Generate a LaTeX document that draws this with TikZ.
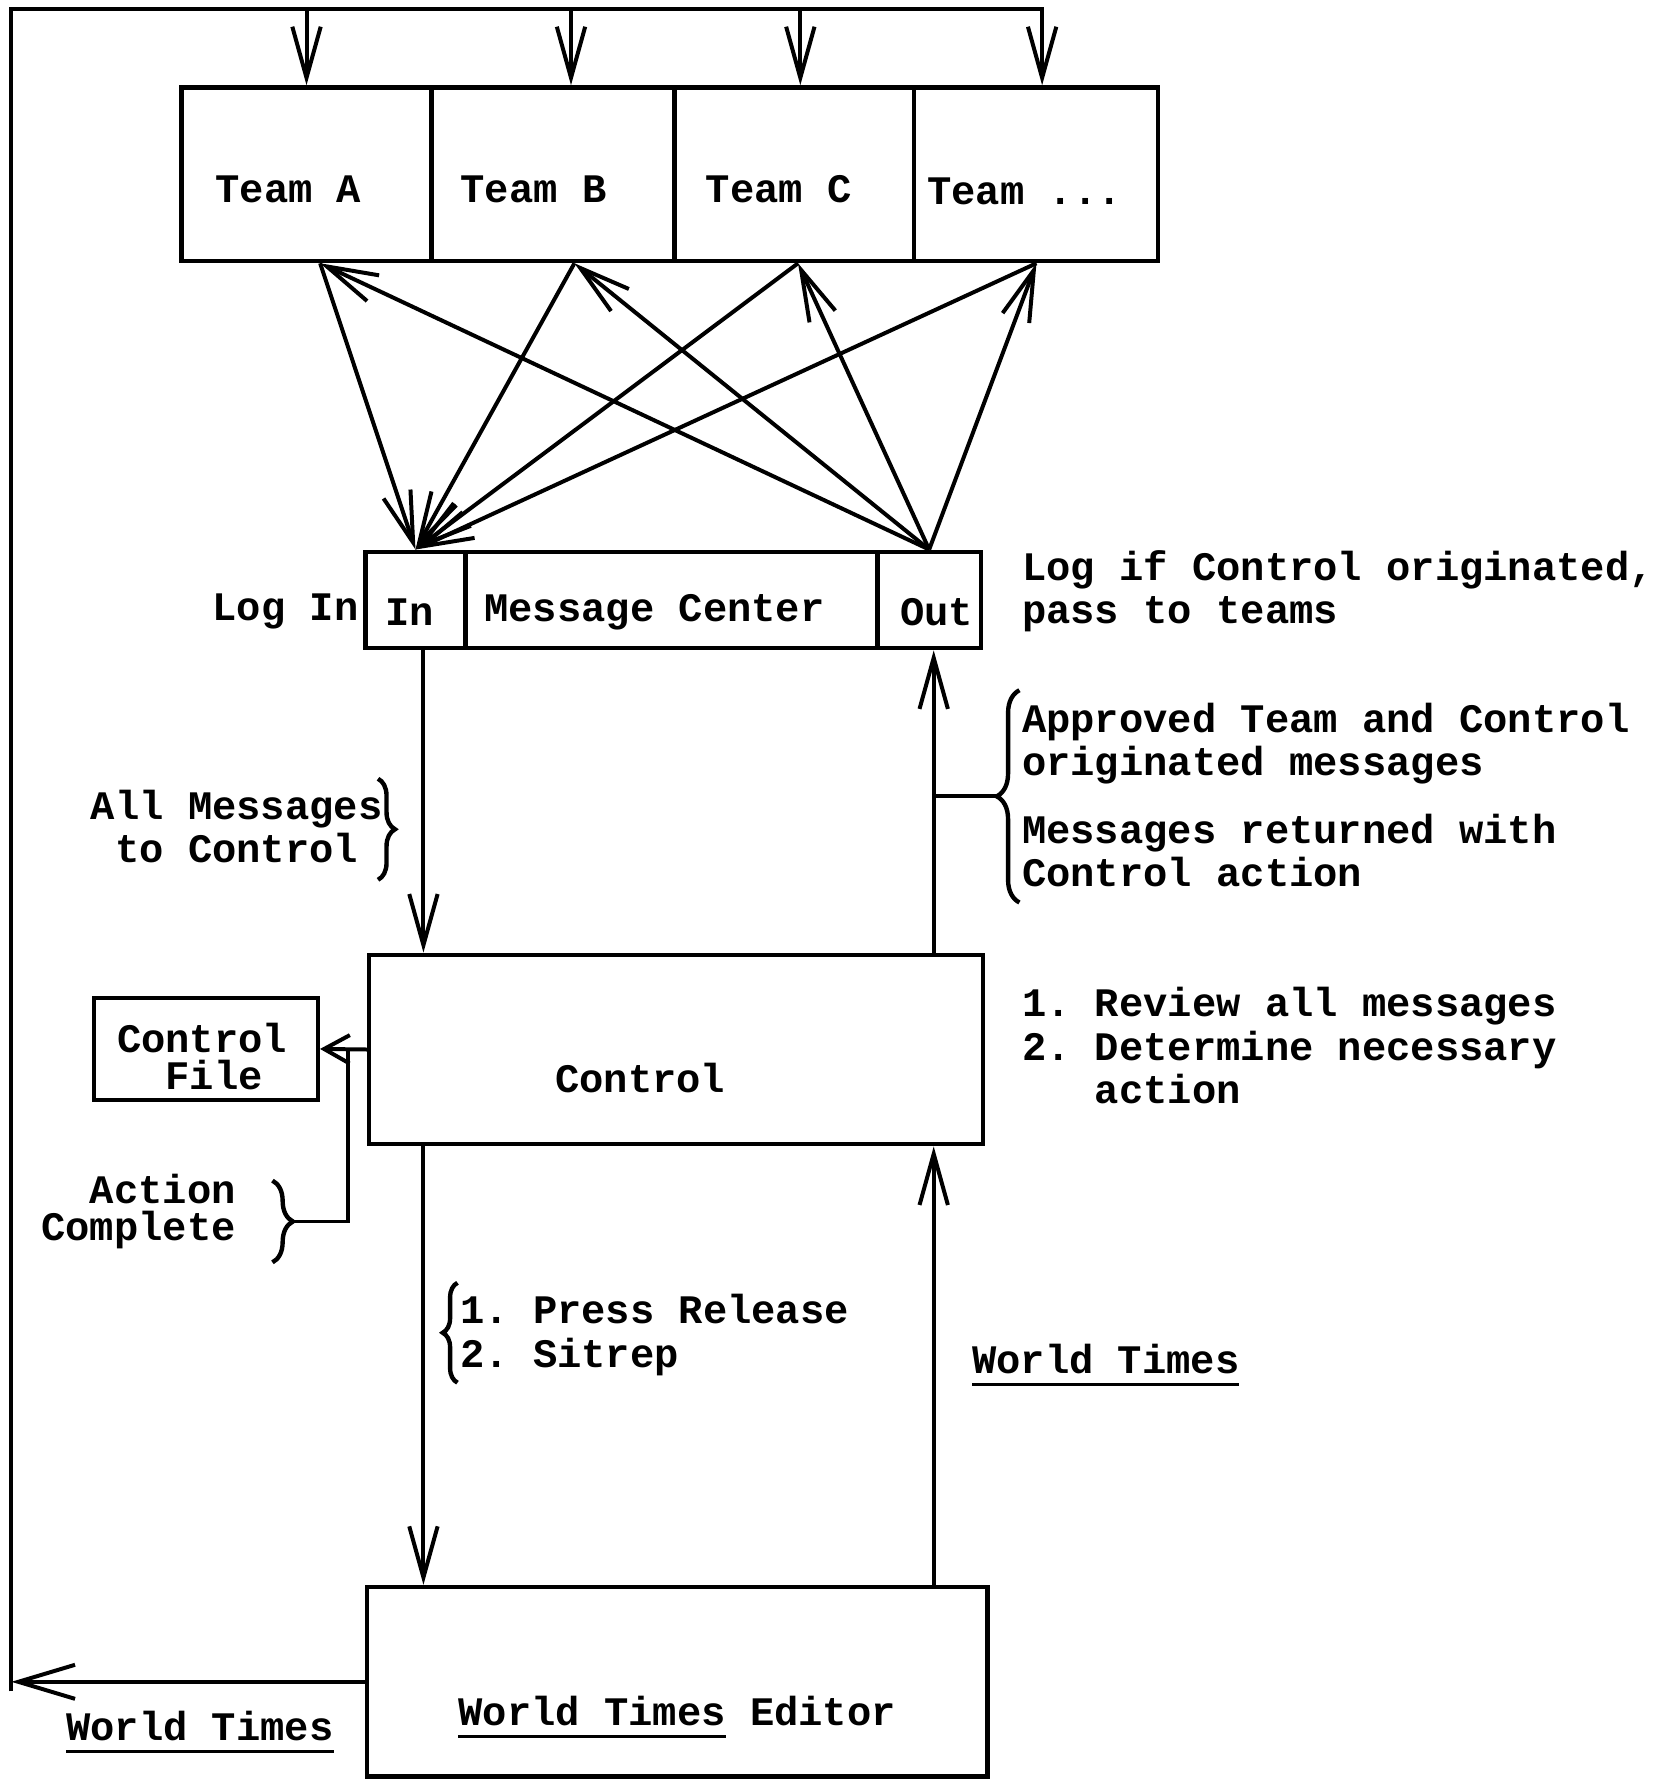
\documentclass[tikz,border=0pt]{standalone}
\usepackage{fontspec}
\setmonofont{Liberation Mono}
\usetikzlibrary{calc,arrows.meta,decorations.pathreplacing}

\newcommand{\ulword}[1]{\vtop{\hbox{#1}\kern4.5pt\hrule height 1.6pt}}

\tikzset{
    box/.style={draw,line width=2.2pt,inner sep=0pt},
    txt/.style={inner sep=0pt,font=\ttfamily\bfseries\fontsize{20.3}{21.6}\selectfont},
    wire/.style={line width=2pt},
    flow/.style={wire,-{Straight Barb[length=0.9cm,width=0.5cm]}},
    brc/.style={wire,line width=2.2pt,decorate,decoration={brace,amplitude=#1}},
    brc/.default=0.3cm,
}

\begin{document}
\begin{tikzpicture}[x=0.02cm,y=-0.02cm]
    \useasboundingbox (0,0) rectangle (1461,1568);

    %%% Teams %%%

    \node[box,minimum width=4.4cm,minimum height=3.06cm] (teamA) at (270,153.5) {};
    \node[box,minimum width=4.28cm,minimum height=3.06cm] (teamB) at (487,153.5) {};
    \node[box,minimum width=4.22cm,minimum height=3.06cm] (teamC) at (699.5,153.5) {};
    \node[box,minimum width=4.3cm,minimum height=3.06cm] (teamD) at (912.5,153.5) {};
    \node[txt] (teamAt) at ($(teamA.center)+(-16,13.5)$) {Team A};
    \node[txt] (teamBt) at ($(teamB.center)+(-17,13.5)$) {Team B};
    \node[txt] (teamCt) at ($(teamC.center)+(-13.5,13.5)$) {Team C};
    \node[txt] (teamDt) at ($(teamD.center)+(-10,15)$) {Team ...};

    %%% Message Center %%%

    \node[box,minimum width=1.76cm,minimum height=1.7cm] (in) at (366,528.5) {};
    \node[box,minimum width=7.26cm,minimum height=1.7cm] (mc) at (591.5,528.5) {};
    \node[box,minimum width=1.82cm,minimum height=1.7cm] (out) at (818.5,528.5) {};
    \node[txt] (int) at ($(in.center)+(-5,10.5)$) {In};
    \node[txt] (mct) at ($(mc.center)+(-15,10.5)$) {Message Center};
    \node[txt] (outt) at ($(out.center)+(6.5,10.5)$) {Out};
    \node[txt,anchor=east] (login) at ($(in.west)+(-4,10.5)$) {Log In};
    \node[txt,anchor=west,align=left] (logif) at (900,521)
        {Log if Control originated,\\pass to teams};

    %%% Control %%%

    \node[box,minimum width=10.82cm,minimum height=3.34cm] (ctrl) at (595.5,924.5) {};
    \node[txt] (ctrlt) at ($(ctrl.center)+(-31.5,25.5)$) {Control};
    \node[box,minimum width=3.94cm,minimum height=1.8cm] (cfile) at (181.5,924) {};
    \node[txt,align=center] (cfilet) at ($(cfile.center)+(-3.5,7)$) {Control\\[-3pt]\ File};
    \node[txt,anchor=west,align=left] (review) at (900,921)
        {1. Review all messages\\2. Determine necessary\\\phantom{2. }action};
    \node[txt,align=center] (allmsg) at (208.5,728) {All Messages\\to Control};
    \node[txt,anchor=west,align=left] (appr) at (900,655)
        {Approved Team and Control\\originated messages};
    \node[txt,anchor=west,align=left] (retd) at (900,749.5)
        {Messages returned with\\Control action};
    \node[txt,anchor=east,align=right] (actc) at (208,1067.5) {Action\\[-3pt]Complete};
    \node[txt,anchor=west,align=left] (press) at (405,1176)
        {1. Press Release\\2. Sitrep};
    \node[txt,anchor=base west] (wtr) at (856,1210) {\ulword{World Times}};

    %%% World Times Editor %%%

    \node[box,minimum width=10.94cm,minimum height=3.34cm] (wte) at (596.5,1481.5) {};
    \node[txt,anchor=base] (wtet) at ($(wte.center)+(0,38.5)$) {\ulword{World Times} Editor};
    \node[txt,anchor=base west] (wtl) at (58,1533) {\ulword{World Times}};

    %%% Connectors %%%

    \coordinate (loopTL) at (10,8);
    \coordinate (loopBL) at (10,1490);
    \coordinate (dA) at (teamA.north);
    \coordinate (dB) at ($(teamB.north)+(16,0)$);
    \coordinate (dC) at ($(teamC.north)+(5.5,0)$);
    \coordinate (dD) at ($(teamD.north)+(5.5,0)$);
    \draw[flow] (loopBL) -- (loopTL) -| (dD);
    \draw[flow] (dA |- loopTL) -- (dA);
    \draw[flow] (dB |- loopTL) -- (dB);
    \draw[flow] (dC |- loopTL) -- (dC);
    \draw[flow,-{Straight Barb[length=1cm,width=0.6cm]}] (wte.west) -- (wte.west -| loopTL);

    \coordinate (uA) at ($(teamA.south)+(12,0)$);
    \coordinate (uB) at ($(teamB.south)+(19,0)$);
    \coordinate (uC) at ($(teamC.south)+(3.5,0)$);
    \coordinate (uD) at ($(teamD.south)+(0.5,0)$);
    \draw[flow] (uA) -- (in.north);
    \draw[flow] (uB) -- (in.north);
    \draw[flow] (uC) -- (in.north);
    \draw[flow] (uD) -- (in.north);
    \draw[flow] (out.north) -- (uA);
    \draw[flow] (out.north) -- (uB);
    \draw[flow] (out.north) -- (uC);
    \draw[flow] (out.north) -- (uD);

    \coordinate (inX) at ($(in.south)+(7,0)$);
    \coordinate (outX) at ($(out.south)+(4,0)$);
    \draw[flow] (inX) -- (inX |- ctrl.north);
    \draw[flow] (ctrl.north -| outX) -- (outX);
    \draw[flow] (ctrl.south -| inX) -- (wte.north -| inX);
    \draw[flow] (wte.north -| outX) -- (ctrl.south -| outX);

    % braces
    \draw[brc=0.4cm] (898,795) -- (898,608);
    \coordinate (apTip) at (878,701.5);
    \draw[wire] (apTip) -- (apTip -| outX);
    \draw[brc=0.3cm] (333,686) -- (333,775);
    \draw[brc=0.36cm] (240,1040) -- (240,1112);
    \coordinate (acTip) at (258,1076);
    \coordinate (acJ) at ($(cfile.east)+(25,0)$);
    \draw[wire] (acTip) -| (acJ);
    \draw[wire,-{Straight Barb[length=0.45cm,width=0.5cm]}] (ctrl.west) -- (cfile.east);
    \draw[brc=0.26cm] (403,1218) -- (403,1130);

\end{tikzpicture}
\end{document}
